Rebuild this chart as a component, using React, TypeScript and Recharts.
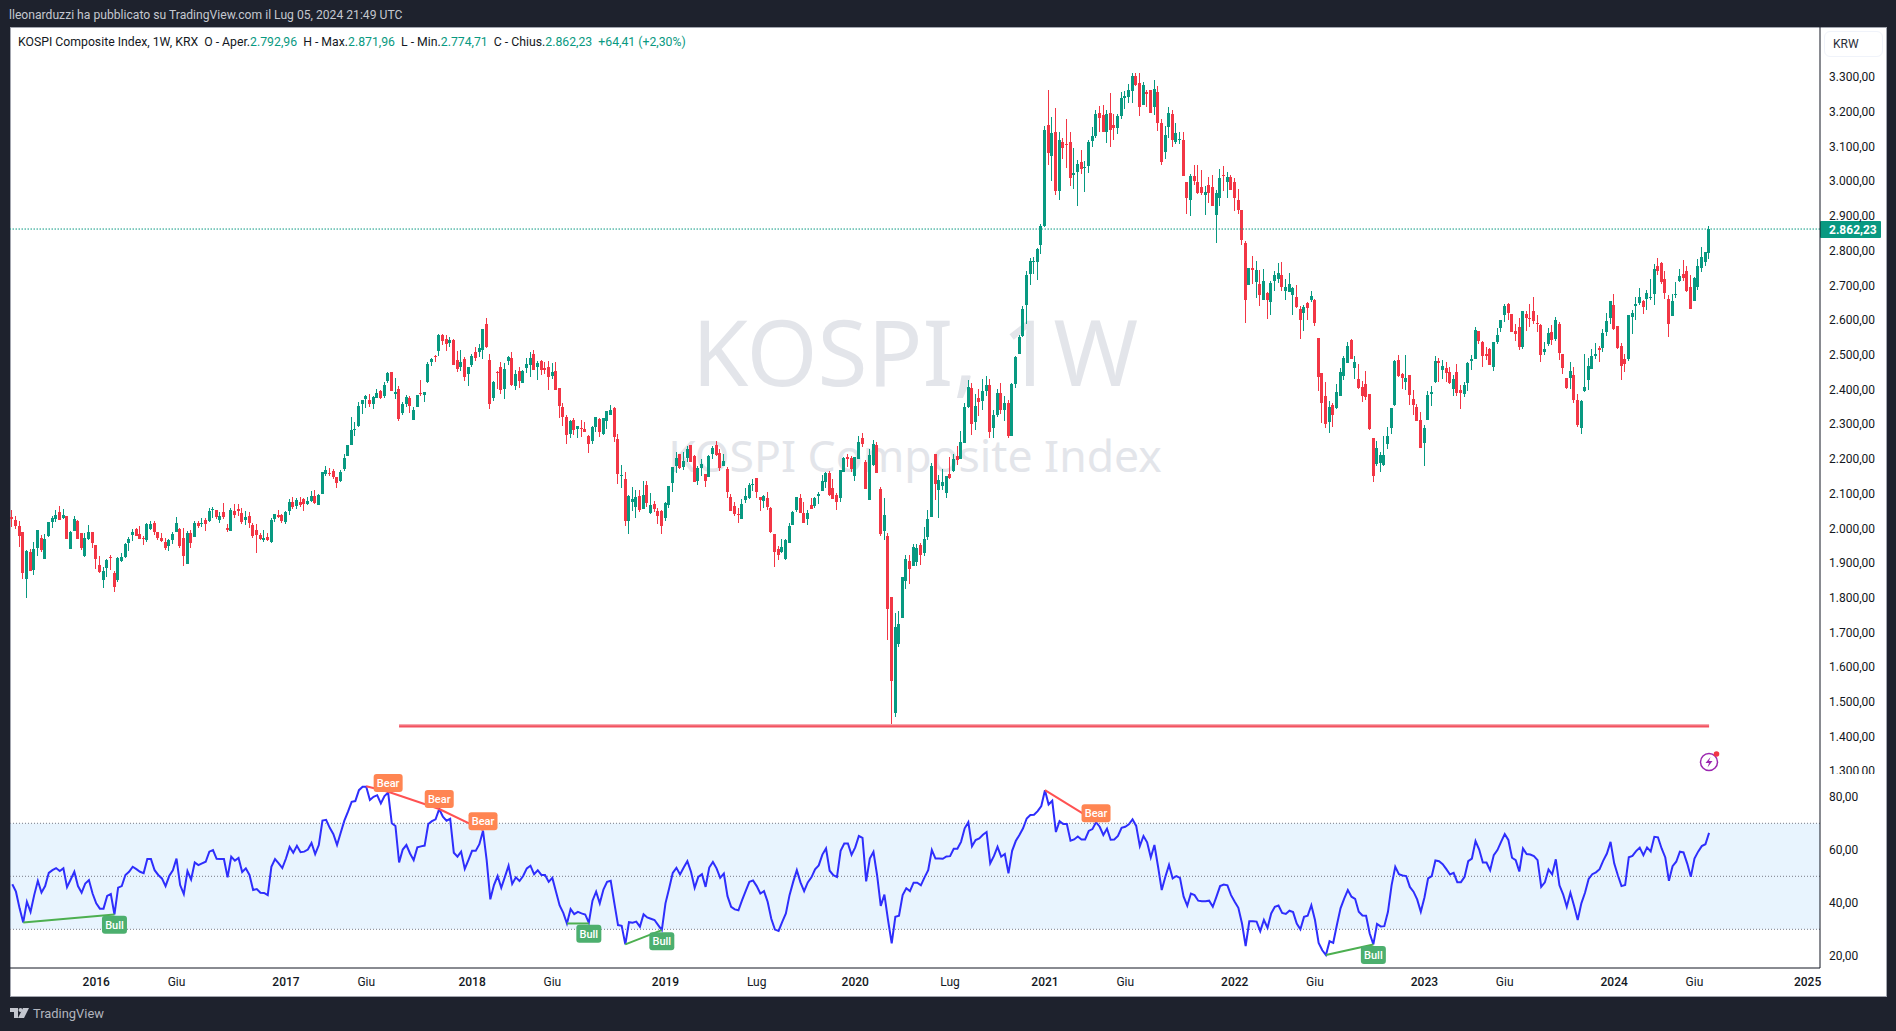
import { Bar, ComposedChart, Line, ReferenceArea, ReferenceDot, ReferenceLine, XAxis, YAxis } from "recharts";

// weekly candles as [open, high, low, close]
const bars2015 = [[2032,2052,2003,2026],[2023,2035,1998,2006],[2006,2020,1946,1977],[1989,1989,1853,1871],[1853,1937,1799,1934],[1931,1940,1876,1878],[1879,1960,1865,1940],[1943,1995,1920,1995],[1972,1980,1931,1937],[1911,1983,1911,1969],[1977,2018,1974,2018],[2018,2035,2000,2029],[2026,2052,2018,2038],[2046,2064,2023,2023],[2029,2055,2026,2038],[2035,2035,1969,1969],[1940,1992,1940,1989],[1992,2035,1992,2026],[2020,2023,1969,1969],[1986,1986,1937,1943],[1920,1986,1917,1972],[1969,2009,1966,1989]];
const bars2016 = [[1989,1989,1943,1957],[1951,1951,1882,1911],[1894,1920,1871,1874],[1851,1888,1828,1876],[1885,1911,1859,1908],[1917,1923,1879,1915],[1871,1876,1816,1830],[1851,1917,1845,1914],[1905,1928,1902,1917],[1917,1957,1914,1954],[1957,1974,1934,1969],[1980,1997,1963,1989],[1997,2000,1977,1977],[1983,2006,1969,1969],[1972,1977,1951,1969],[1966,2015,1960,2012],[1997,2020,1995,2012],[2015,2020,1980,1989],[1989,1989,1966,1972],[1972,1986,1960,1963],[1960,1972,1937,1943],[1948,1969,1934,1966],[1966,1989,1954,1983],[1989,2032,1989,2015],[1997,2000,1943,1948],[1972,2000,1891,1920],[1897,1992,1897,1986],[1986,1995,1943,1957],[1974,2020,1974,2015],[2015,2020,2000,2006],[2012,2029,2003,2015],[2023,2029,1992,2012],[2020,2058,2018,2049],[2052,2061,2029,2055],[2052,2052,2026,2032],[2023,2046,2015,2035],[2046,2072,2026,2032],[2000,2012,1989,1995],[1992,2058,1992,2052],[2049,2069,2029,2038],[2055,2069,2035,2049],[2043,2058,2012,2018],[2023,2049,2009,2032],[2035,2046,2000,2015],[2009,2015,1972,1977],[1995,2012,1928,1980],[1980,1986,1966,1969],[1966,1995,1960,1972],[1974,1986,1963,1966],[1960,2029,1957,2023],[2026,2041,2018,2041],[2038,2052,2029,2032]];
const bars2017 = [[2038,2041,2015,2020],[2018,2049,2012,2046],[2049,2084,2038,2075],[2075,2090,2055,2061],[2064,2087,2055,2081],[2075,2090,2061,2067],[2084,2087,2049,2069],[2069,2090,2067,2078],[2078,2107,2075,2093],[2093,2110,2069,2072],[2067,2098,2067,2095],[2098,2162,2098,2162],[2156,2179,2150,2167],[2159,2173,2150,2156],[2165,2170,2141,2147],[2147,2147,2116,2130],[2136,2167,2133,2162],[2170,2213,2165,2202],[2208,2239,2208,2239],[2239,2320,2239,2283],[2283,2306,2265,2286],[2294,2363,2291,2352],[2357,2369,2329,2369],[2372,2383,2346,2380],[2369,2386,2349,2357],[2357,2381,2343,2378],[2375,2401,2375,2389],[2395,2398,2372,2375],[2381,2421,2375,2412],[2424,2450,2418,2447],[2450,2450,2395,2395],[2386,2432,2372,2392],[2401,2409,2309,2314],[2332,2363,2326,2357],[2357,2383,2349,2378],[2375,2381,2332,2352],[2311,2349,2311,2340],[2349,2383,2349,2383],[2389,2427,2381,2386],[2383,2392,2363,2392],[2421,2478,2418,2473],[2478,2490,2467,2487],[2496,2499,2478,2493],[2510,2559,2496,2556],[2556,2559,2527,2539],[2545,2556,2510,2530],[2533,2550,2522,2542],[2542,2545,2470,2470],[2484,2510,2450,2458],[2464,2513,2453,2478],[2487,2493,2424,2435],[2444,2464,2409,2464]];
const bars2018 = [[2470,2501,2464,2496],[2507,2522,2481,2490],[2507,2530,2493,2519],[2513,2573,2487,2573],[2588,2605,2519,2521],[2484,2501,2343,2357],[2375,2424,2366,2421],[2449,2452,2400,2447],[2464,2478,2386,2398],[2400,2475,2372,2458],[2481,2496,2470,2493],[2490,2507,2409,2412],[2409,2455,2398,2444],[2452,2464,2403,2424],[2418,2455,2418,2452],[2461,2490,2447,2472],[2470,2507,2435,2490],[2501,2513,2455,2455],[2464,2481,2426,2475],[2481,2484,2441,2455],[2461,2478,2444,2455],[2464,2481,2398,2435],[2438,2475,2429,2449],[2452,2478,2398,2398],[2403,2403,2317,2351],[2349,2361,2295,2320],[2320,2326,2243,2269],[2271,2312,2260,2309],[2312,2318,2269,2283],[2286,2295,2260,2295],[2289,2312,2263,2286],[2286,2306,2277,2277],[2266,2269,2217,2243],[2251,2295,2243,2292],[2292,2320,2277,2320],[2315,2318,2263,2277],[2271,2318,2269,2318],[2309,2338,2286,2338],[2326,2355,2326,2341],[2346,2349,2248,2263],[2257,2271,2127,2156],[2151,2182,2116,2153],[2142,2162,2006,2021],[2021,2096,1983,2093],[2076,2119,2050,2084],[2061,2110,2030,2090],[2093,2110,2047,2053],[2055,2136,2055,2096],[2125,2136,2061,2073],[2044,2101,2041,2067],[2070,2079,2047,2055],[2050,2058,2012,2035]];
const bars2019 = [[2050,2053,1983,2006],[2030,2076,2021,2073],[2067,2122,2058,2122],[2130,2176,2104,2176],[2179,2220,2159,2202],[2214,2214,2171,2174],[2176,2220,2168,2194],[2202,2237,2191,2228],[2240,2240,2191,2191],[2208,2211,2133,2133],[2136,2179,2125,2174],[2174,2199,2150,2185],[2156,2156,2119,2136],[2148,2211,2148,2208],[2214,2237,2199,2231],[2240,2251,2208,2211],[2217,2228,2165,2174],[2179,2214,2179,2194],[2171,2176,2087,2104],[2090,2099,2050,2050],[2064,2076,2035,2041],[2041,2058,2015,2038],[2027,2084,2027,2070],[2081,2116,2073,2093],[2087,2130,2084,2125],[2125,2142,2107,2127],[2145,2145,2087,2104],[2090,2090,2050,2081],[2079,2096,2058,2093],[2087,2104,2053,2061],[2058,2061,1986,1989],[1983,1983,1888,1932],[1940,1949,1909,1923],[1932,1969,1929,1946],[1911,1969,1909,1966],[1957,2015,1957,2006],[2009,2050,2009,2047],[2053,2090,2047,2090],[2087,2099,2044,2044],[2044,2076,2015,2015],[2027,2053,2009,2044],[2067,2087,2055,2055],[2064,2090,2058,2087],[2093,2104,2070,2099],[2107,2153,2107,2136],[2133,2162,2116,2159],[2159,2165,2093,2096],[2116,2142,2084,2084],[2096,2101,2053,2076],[2087,2168,2076,2168],[2162,2205,2162,2202],[2205,2214,2176,2199]];
const bars2020 = [[2202,2208,2162,2171],[2150,2205,2136,2205],[2199,2266,2199,2248],[2260,2274,2234,2243],[2191,2197,2113,2113],[2081,2228,2081,2211],[2182,2254,2179,2243],[2240,2248,2159,2159],[2113,2119,1978,1983],[1992,2087,1966,2038],[1978,1986,1678,1767],[1802,1802,1436,1560],[1468,1756,1456,1716],[1667,1762,1658,1724],[1742,1860,1742,1860],[1848,1923,1825,1911],[1906,1923,1839,1883],[1891,1955,1891,1946],[1903,1955,1891,1943],[1952,1958,1894,1923],[1929,2004,1920,1969],[1975,2053,1966,2027],[2032,2188,2032,2179],[2214,2214,2081,2127],[2110,2153,2030,2139],[2122,2171,2110,2133],[2101,2150,2087,2150],[2156,2205,2142,2145],[2165,2214,2162,2199],[2208,2237,2182,2197],[2199,2280,2199,2248],[2246,2361,2246,2349],[2349,2427,2346,2407],[2404,2418,2269,2300],[2306,2387,2283,2352],[2375,2401,2323,2364],[2368,2430,2340,2396],[2396,2440,2380,2412],[2412,2430,2260,2278],[2290,2340,2260,2327],[2327,2400,2320,2391],[2391,2420,2330,2341],[2341,2380,2310,2360],[2360,2370,2260,2267],[2267,2420,2265,2416],[2416,2497,2405,2493],[2501,2556,2501,2550],[2553,2640,2550,2631],[2642,2740,2588,2729],[2732,2778,2700,2769],[2766,2781,2732,2769],[2766,2809,2714,2804],[2815,2876,2789,2870]];
const bars2021 = [[2870,3158,2867,3149],[3161,3264,3046,3080],[3074,3184,3002,3138],[3141,3210,2959,2971],[2971,3141,2945,3118],[3112,3126,3063,3095],[3106,3178,3037,3103],[3112,3141,2985,3008],[3017,3095,2979,3025],[3028,3060,2928,3051],[3054,3089,3020,3034],[3037,3057,2968,3040],[3043,3120,3023,3112],[3115,3155,3100,3129],[3129,3204,3126,3195],[3198,3218,3143,3181],[3190,3221,3141,3143],[3143,3204,3109,3195],[3198,3253,3100,3149],[3161,3195,3120,3152],[3152,3195,3135,3187],[3187,3256,3178,3239],[3239,3259,3207,3247],[3244,3279,3224,3264],[3259,3313,3224,3302],[3302,3311,3273,3276],[3282,3311,3187,3213],[3221,3285,3221,3276],[3256,3262,3213,3250],[3264,3264,3198,3198],[3213,3293,3192,3267],[3256,3273,3144,3167],[3167,3178,3046,3054],[3083,3158,3063,3132],[3155,3213,3126,3198],[3195,3204,3100,3120],[3112,3167,3106,3138],[3120,3143,3106,3123],[3120,3143,3014,3014],[2997,2997,2907,2951],[2945,3020,2899,3014],[3014,3046,2988,3002],[2999,3048,2962,2965],[2982,3031,2959,2965],[2959,2985,2902,2968],[2988,3011,2936,2965],[2982,3017,2928,2930],[2902,2974,2821,2965],[2951,3034,2930,3008],[3017,3043,2971,3014],[2997,3028,2953,3011],[3011,3017,2974,2974]];
const bars2022 = [[2997,3008,2913,2951],[2945,2979,2907,2916],[2916,2916,2815,2830],[2821,2827,2591,2657],[2700,2749,2700,2749],[2749,2786,2703,2743],[2709,2769,2663,2743],[2703,2743,2640,2671],[2657,2746,2657,2712],[2677,2680,2602,2657],[2651,2712,2614,2706],[2712,2740,2683,2729],[2717,2763,2706,2737],[2729,2766,2683,2694],[2683,2717,2657,2694],[2680,2735,2680,2703],[2671,2694,2614,2691],[2665,2700,2634,2639],[2631,2640,2544,2599],[2619,2642,2568,2637],[2648,2651,2599,2634],[2657,2683,2651,2668],[2657,2660,2582,2591],[2548,2548,2395,2435],[2447,2447,2303,2360],[2381,2421,2288,2300],[2306,2366,2274,2349],[2355,2361,2291,2326],[2346,2415,2343,2392],[2381,2461,2381,2450],[2438,2496,2427,2490],[2476,2536,2476,2525],[2542,2545,2487,2487],[2461,2496,2430,2478],[2430,2473,2401,2404],[2406,2424,2363,2381],[2415,2453,2369,2378],[2386,2386,2283,2286],[2260,2260,2133,2150],[2185,2251,2179,2231],[2188,2219,2162,2211],[2182,2265,2179,2211],[2242,2291,2228,2265],[2288,2346,2271,2346],[2355,2484,2352,2481],[2484,2499,2435,2438],[2444,2447,2401,2432],[2421,2499,2398,2432],[2441,2441,2355,2383],[2372,2398,2326,2355],[2349,2358,2309,2309],[2312,2334,2231,2231]];
const bars2023 = [[2245,2297,2179,2288],[2312,2395,2312,2384],[2386,2409,2352,2392],[2421,2496,2418,2481],[2481,2490,2421,2476],[2455,2484,2430,2467],[2461,2478,2421,2447],[2450,2464,2415,2418],[2401,2441,2381,2430],[2450,2473,2381,2389],[2398,2412,2343,2389],[2386,2421,2378,2412],[2418,2479,2395,2476],[2481,2499,2455,2487],[2487,2579,2487,2571],[2568,2568,2530,2539],[2536,2539,2464,2496],[2502,2522,2484,2496],[2516,2519,2470,2470],[2464,2536,2453,2536],[2536,2576,2530,2556],[2576,2599,2565,2599],[2614,2645,2594,2640],[2645,2648,2599,2620],[2617,2617,2565,2565],[2568,2588,2539,2559],[2579,2605,2513,2522],[2522,2625,2516,2625],[2617,2625,2568,2605],[2605,2646,2579,2602],[2625,2666,2588,2597],[2591,2614,2565,2588],[2585,2588,2479,2499],[2507,2536,2499,2516],[2530,2576,2525,2562],[2565,2585,2527,2542],[2545,2608,2539,2599],[2588,2594,2484,2504],[2502,2502,2444,2461],[2432,2432,2401,2404],[2432,2479,2401,2453],[2441,2464,2360,2369],[2369,2386,2291,2297],[2288,2369,2271,2366],[2395,2502,2392,2406],[2427,2490,2398,2467],[2458,2516,2458,2496],[2496,2533,2487,2502],[2519,2525,2479,2513],[2519,2574,2507,2562],[2565,2620,2553,2597],[2605,2654,2588,2654]];
const bars2024 = [[2643,2674,2571,2574],[2582,2582,2516,2519],[2525,2533,2427,2467],[2487,2502,2450,2473],[2487,2614,2481,2614],[2608,2628,2559,2620],[2640,2666,2600,2646],[2648,2692,2643,2666],[2654,2657,2617,2637],[2660,2686,2628,2677],[2663,2718,2657,2666],[2674,2761,2643,2746],[2755,2778,2729,2741],[2764,2767,2703,2709],[2718,2741,2660,2677],[2660,2671,2550,2588],[2611,2674,2611,2654],[2671,2709,2663,2674],[2712,2746,2709,2726],[2732,2772,2712,2720],[2741,2755,2680,2683],[2695,2729,2631,2631],[2654,2723,2654,2720],[2695,2775,2686,2755],[2749,2810,2738,2781],[2767,2795,2755,2795],[2792.96,2871.96,2774.71,2862.23]];

// RSI, one value per candle
const rsi2015 = [47,44.2,37.9,32.6,40.4,36.6,42.9,48.3,43.9,46.3,51.3,52.3,53.1,52,53,45.9,48.8,51.7,46.3,43.8,47.3,48.6];
const rsi2016 = [43.5,39.8,37.8,37.8,42.6,43.3,35.6,45.7,46.3,50.5,51.7,53.6,52.7,51.7,51.2,56.5,56.5,52.3,50.5,49.2,46.3,50.1,52.3,56.7,46.7,43.3,52,48.8,55.2,54.2,54.9,55.5,59.3,59.9,56.6,56.5,56.5,49.6,57.4,55.9,56.9,51.6,53,50.5,44.8,45.2,43.8,43.7,42.9,53.6,56.5,54.9];
const rsi2017 = [53.1,56.7,61.1,58.9,61.5,59.1,59.3,60.1,62.6,58.4,61.8,71,71.3,68.3,65.9,61.8,66.4,71,74.4,78.1,78.4,82.5,83.8,83.8,78.8,80,80.6,77.5,80.3,81.6,70,69,55.2,60.1,61.8,58.6,56.1,60.9,61.3,61.6,69.7,70.8,71.5,75.4,72.5,71,71.7,58.9,57.4,59.3,52.8,56.1];
const rsi2018 = [59.6,59.6,62.1,67.2,56.1,41.3,46.7,50.1,45.7,49.8,54,47.1,49.6,48.2,50.1,53,54,50.8,52.3,50.5,50.5,47.9,49.4,44.2,39,36.2,32.2,37.6,35.7,36.6,36,35.6,32.5,40.8,44.2,39.8,45,47.9,48.3,39.8,31.6,31.3,24.3,32.7,32.5,32.9,31,35.7,34.5,34,33.5,31.6];
const rsi2019 = [29.7,39.8,45.4,51.3,53.2,50.7,53.3,55.7,51.7,45.7,49.8,50.8,46,53.3,55.4,53,49.4,51,42.5,38.5,37.5,37.2,41,44.5,47.9,48.4,46.3,43.5,44.4,40.4,34,29.9,29.4,32.8,36,42.9,47.9,52.3,47.7,44.4,47.7,49.6,52.6,54.1,58.2,60.5,52.1,50.4,49.7,59.6,62.4,62.4];
const rsi2020 = [58.1,60.9,65.2,64.5,48.1,56.7,59.2,50.4,38.8,43.1,33.5,24.7,34.7,35.1,42.9,45.5,44.4,47.6,47.6,46.6,49.6,52.3,59.9,56.7,56.7,56.6,57.5,57.6,60.4,60.4,63,68.1,70.4,61.3,63.7,64.3,65.7,66.7,54.9,57.6,61.1,57.4,58.4,51.1,59.6,63.3,65.6,68.1,71.8,73.1,73.2,74.6,76.5];
const rsi2021 = [82.5,77.1,78.5,66.7,70.8,69.7,69.7,63.4,63.9,65,63.9,63.9,67.1,67.8,70.4,68.7,65.6,68,63.8,63.9,65.2,68.3,68.7,69.6,71.5,69,61.4,65.2,62.8,57.1,61.8,53.6,44.8,49.8,54.3,49.2,50.1,49.4,42.3,38.9,43.5,42.9,40.8,40.6,40.6,40.8,38.5,42.3,46.3,46.9,46.6,42.9];
const rsi2022 = [40.4,38.1,32.2,23.7,33,33,32.9,29.3,33.5,30.6,36,38.5,39,36.2,35.8,37,36.5,32.2,30,34.7,35.1,39.1,33.5,24.9,22.1,20.3,25.5,24.9,31.6,37.9,41.6,44.8,42.3,41.5,36.6,35.2,35.1,28.4,24.3,32,31.1,31.2,36.6,46.7,53.6,50.8,50.3,50.1,46,44.2,41.3,36.6];
const rsi2023 = [42,49.2,50.1,56,55.7,54.6,52.7,50.7,51.3,47.8,47.8,49.8,55.7,56.7,63.3,60.1,55.2,55.2,52.3,58,59.9,63,65.9,63.7,57,56.1,51.8,60.5,58.4,58.2,57.6,56.1,46,47.7,52.6,50.7,56.4,46.6,43.2,38.5,43.8,38.9,33.5,39.8,43.8,49,50.8,51.5,52.7,55.9,58.6,63];
const rsi2024 = [54.9,50.4,46.3,46.7,57.2,57.7,59.5,60.8,58,60.9,59.4,64.9,64.7,60.5,57.1,48.3,53.8,55.5,59.3,59,54.9,49.8,56.7,59.3,61.4,62.1,66.4];

const priceTicks = [3300,3200,3100,3000,2900,2800,2700,2600,2500,2400,2300,2200,2100,2000,1900,1800,1700,1600,1500,1400,1300];
const rsiTicks = [80,60,40,20];
const timeTicks = [23,45,75,97,126,148,179,204,231,257,283,305,335,357,387,409,439,461,492];
const timeLabels = ["2016","Giu","2017","Giu","2018","Giu","2019","Lug","2020","Lug","2021","Giu","2022","Giu","2023","Giu","2024","Giu","2025"];

// divergence segments on the RSI: [fromBar, fromRsi, toBar, toRsi]
const bearSegments = [[97,84,103,81.9],[103,81.9,117,75.4],[117,75.4,129,67.4],[283,82.5,297,70.6]];
const bullSegments = [[3,32.6,28,35.6],[152,32.2,158,32.2],[168,24.3,178,29.7],[360,20.3,373,24.3]];
// [bar, rsi] where each tag sits
const bearTags = [[103,85.2],[117,79.2],[129,70.8],[297,73.8]];
const bullTags = [[28,31.7],[158,28.3],[178,25.5],[373,20.3]];

const supportLevel = 1430;
const supportFrom = 106;
const lastClose = 2862.23;

const candles = [...bars2015,...bars2016,...bars2017,...bars2018,...bars2019,...bars2020,...bars2021,...bars2022,...bars2023,...bars2024];
const rsiValues = [...rsi2015,...rsi2016,...rsi2017,...rsi2018,...rsi2019,...rsi2020,...rsi2021,...rsi2022,...rsi2023,...rsi2024];
const data = candles.map((c, i) => ({ i, open: c[0], high: c[1], low: c[2], close: c[3], range: [c[2], c[1]], rsi: rsiValues[i] }));
const lastBar = candles.length - 1;

const UP = "#089981";
const DOWN = "#f23645";
const FONT = "Roboto, sans-serif";
const xDomain = [-0.63, 495.4];

const num = (v: number) => v.toLocaleString("de-DE", { minimumFractionDigits: 2, maximumFractionDigits: 2 });

function Candle(props: any) {
  const { x, y, width, height, payload } = props;
  const { open, high, low, close } = payload;
  const px = Math.round(x + width / 2 - 0.5);
  const perUnit = high === low ? 0 : height / (high - low);
  const top = y + (high - Math.max(open, close)) * perUnit;
  const bodyH = Math.max(1, Math.abs(open - close) * perUnit);
  const color = close >= open ? UP : DOWN;
  return (
    <g shapeRendering="crispEdges">
      <rect x={px} y={y} width={1} height={height} fill={color} />
      <rect x={px - 1} y={top} width={3} height={bodyH} fill={color} />
    </g>
  );
}

function PriceTag(props: any) {
  const { viewBox } = props;
  const left = viewBox.x + viewBox.width;
  return (
    <g>
      <rect x={left} y={viewBox.y - 8} width={61} height={17} rx={1} fill={UP} />
      <text x={left + 9} y={viewBox.y + 4.5} fill="#fff" fontSize={12} fontWeight={700} fontFamily={FONT}>
        {num(lastClose)}
      </text>
    </g>
  );
}

function Tag(props: any) {
  const { cx, cy, text, fill, w } = props;
  return (
    <g>
      <rect x={cx - w / 2} y={cy - 9} width={w} height={18} rx={3} fill={fill} />
      <text x={cx} y={cy + 4} fill="#fff" fontSize={11} fontWeight={500} textAnchor="middle" fontFamily={FONT}>
        {text}
      </text>
    </g>
  );
}

function TimeTick(props: any) {
  const { x, y, index } = props;
  const label = timeLabels[index];
  const isYear = /\d/.test(label);
  return (
    <text x={x} y={y + 10} fill="#131722" fontSize={12} fontWeight={isYear ? 500 : 400} textAnchor="middle" fontFamily={FONT}>
      {label}
    </text>
  );
}

export default function App() {
  return (
    <div style={{ position: "fixed", left: 0, top: 0, width: 1896, height: 1031, background: "#1e222d", fontFamily: FONT, overflow: "hidden" }}>
      <div style={{ position: "absolute", left: 9, top: 8, fontSize: 12.15, lineHeight: "15px", color: "#c4c7cf" }}>
        lleonarduzzi ha pubblicato su TradingView.com il Lug 05, 2024 21:49 UTC
      </div>

      <div style={{ position: "absolute", left: 10, top: 27, width: 1875, height: 968, background: "#fff", border: "1px solid #a3a6af", boxSizing: "content-box" }} />

      <div style={{ position: "absolute", left: 10, width: 1810, top: 303, textAlign: "center", fontSize: 91, lineHeight: "96px", color: "#e3e5ea", fontFamily: "'Noto Sans', sans-serif", whiteSpace: "pre" }}>
        KOSPI, 1W
      </div>
      <div style={{ position: "absolute", left: 10, width: 1810, top: 428, textAlign: "center", fontSize: 44.5, lineHeight: "54px", color: "#e3e5ea", fontFamily: "'Noto Sans', sans-serif", whiteSpace: "pre" }}>
        KOSPI Composite Index
      </div>

      <div style={{ position: "absolute", left: 10, top: 27, width: 1876, height: 747, overflow: "hidden" }}>
        <ComposedChart width={1876} height={747} data={data} margin={{ top: 0, right: 0, bottom: 0, left: 0 }}>
          <XAxis type="number" dataKey="i" domain={xDomain} allowDataOverflow hide />
          <YAxis
            orientation="right"
            width={66}
            domain={[1292, 3444.4]}
            allowDataOverflow
            ticks={priceTicks}
            interval={0}
            tickFormatter={num}
            tick={{ fill: "#131722", fontSize: 12, fontFamily: FONT, textAnchor: "start" }}
            tickLine={false}
            tickMargin={3}
            axisLine={{ stroke: "#131722" }}
          />
          <ReferenceLine segment={[{ x: supportFrom, y: supportLevel }, { x: lastBar, y: supportLevel }]} stroke="#f7a8b0" strokeWidth={4} />
          <ReferenceLine segment={[{ x: supportFrom, y: supportLevel }, { x: lastBar, y: supportLevel }]} stroke={DOWN} strokeWidth={1.3} />
          <Bar dataKey="range" barSize={3} shape={<Candle />} isAnimationActive={false} />
          <ReferenceLine y={lastClose} stroke={UP} strokeDasharray="1.5 1.5" label={(p: any) => <PriceTag {...p} />} />
        </ComposedChart>
      </div>

      <div style={{ position: "absolute", left: 10, top: 774, width: 1876, height: 221 }}>
        <ComposedChart width={1876} height={221} data={data} margin={{ top: 0, right: 0, bottom: 0, left: 0 }}>
          <XAxis
            type="number"
            dataKey="i"
            domain={xDomain}
            allowDataOverflow
            ticks={timeTicks}
            interval={0}
            height={27}
            tick={<TimeTick />}
            tickLine={false}
            axisLine={{ stroke: "#131722" }}
          />
          <YAxis
            orientation="right"
            width={66}
            domain={[15.4, 88.6]}
            allowDataOverflow
            ticks={rsiTicks}
            interval={0}
            tickFormatter={num}
            tick={{ fill: "#131722", fontSize: 12, fontFamily: FONT, textAnchor: "start" }}
            tickLine={false}
            tickMargin={3}
            axisLine={{ stroke: "#131722" }}
          />
          <ReferenceArea y1={30} y2={70} fill="#2196f3" fillOpacity={0.1} stroke="none" />
          <ReferenceLine y={70} stroke="#787b86" strokeDasharray="1 2" />
          <ReferenceLine y={50} stroke="#787b86" strokeDasharray="1 2" />
          <ReferenceLine y={30} stroke="#787b86" strokeDasharray="1 2" />
          <Line dataKey="rsi" type="linear" stroke="#2e2efc" strokeWidth={2} dot={false} isAnimationActive={false} />
          {bearSegments.map((s, k) => (
            <ReferenceLine key={"be" + k} segment={[{ x: s[0], y: s[1] }, { x: s[2], y: s[3] }]} stroke="#ff5252" strokeWidth={2} />
          ))}
          {bullSegments.map((s, k) => (
            <ReferenceLine key={"bu" + k} segment={[{ x: s[0], y: s[1] }, { x: s[2], y: s[3] }]} stroke="#4caf50" strokeWidth={2} />
          ))}
          {bearTags.map((t, k) => (
            <ReferenceDot key={"bt" + k} x={t[0]} y={t[1]} shape={(p: any) => <Tag {...p} text="Bear" fill="#ff8552" w={29} />} />
          ))}
          {bullTags.map((t, k) => (
            <ReferenceDot key={"gt" + k} x={t[0]} y={t[1]} shape={(p: any) => <Tag {...p} text="Bull" fill="#4caf6e" w={25} />} />
          ))}
        </ComposedChart>
      </div>

      <div style={{ position: "absolute", left: 18, top: 35, fontSize: 12.25, lineHeight: "15px", color: "#131722", whiteSpace: "pre" }}>
        {"KOSPI Composite Index, 1W, KRX  O - Aper."}
        <span style={{ color: UP }}>2.792,96</span>
        {"  H - Max."}
        <span style={{ color: UP }}>2.871,96</span>
        {"  L - Min."}
        <span style={{ color: UP }}>2.774,71</span>
        {"  C - Chius."}
        <span style={{ color: UP }}>2.862,23</span>
        <span style={{ color: UP }}>{"  +64,41 (+2,30%)"}</span>
      </div>

      <div style={{ position: "absolute", left: 1824, top: 31, width: 59, height: 26, boxSizing: "border-box", border: "1px solid #f0f3fa", borderRadius: 6, fontSize: 12, lineHeight: "25px", paddingLeft: 8, color: "#2a2e39" }}>
        KRW
      </div>

      <svg style={{ position: "absolute", left: 1695, top: 749 }} width={30} height={28}>
        <circle cx={14} cy={13} r={8.5} fill="none" stroke="#9c27b0" strokeWidth={1.5} />
        <path d="M15.5 8 L10.5 14 H14 L12.5 18.5 L17.5 12 H14 Z" fill="#9c27b0" />
        <circle cx={21.5} cy={5} r={2.8} fill="#f23645" />
      </svg>

      <svg style={{ position: "absolute", left: 10, top: 1008 }} width={20} height={11}>
        <path d="M0 0h8v10H4V4H0z" fill="#c4c7cf" />
        <circle cx={10.5} cy={2} r={2} fill="#c4c7cf" />
        <path d="M13 0h6l-5 10H8z" fill="#c4c7cf" />
      </svg>
      <div style={{ position: "absolute", left: 33, top: 1006, fontSize: 12.9, lineHeight: "16px", color: "#b2b5be" }}>TradingView</div>
    </div>
  );
}
